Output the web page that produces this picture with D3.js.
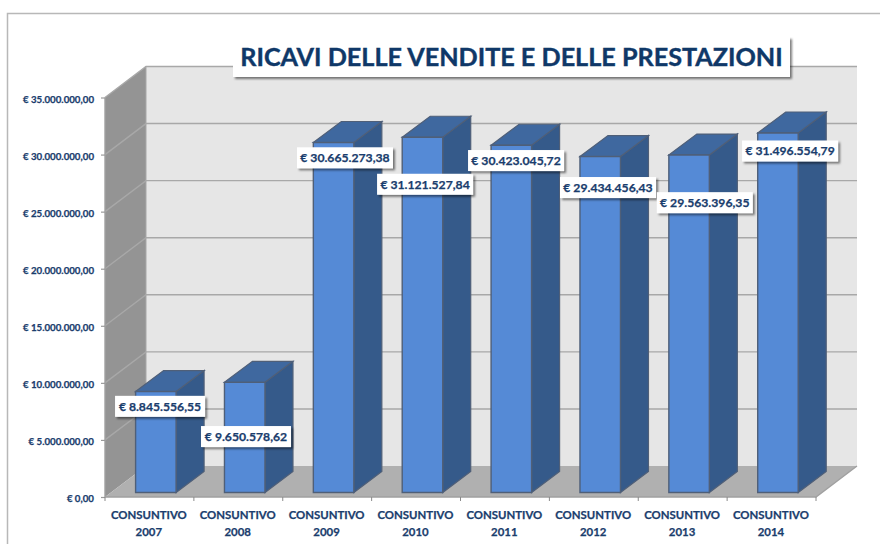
<!DOCTYPE html>
<html><head><meta charset="utf-8">
<script src="https://cdn.jsdelivr.net/npm/d3@7/dist/d3.min.js"></script>
<style>html,body{margin:0;padding:0;background:#fff}svg{display:block}text{font-family:Lato,"Open Sans",sans-serif;font-weight:700;fill:#1a3d6d;stroke:#1a3d6d;stroke-width:.25px}</style>
</head><body><div id="c"></div>
<script>
const categories=["CONSUNTIVO 2007","CONSUNTIVO 2008","CONSUNTIVO 2009","CONSUNTIVO 2010","CONSUNTIVO 2011","CONSUNTIVO 2012","CONSUNTIVO 2013","CONSUNTIVO 2014"];
const values=[8845556.55,9650578.62,30665273.38,31121527.84,30423045.72,29434456.43,29563396.35,31496554.79];
const valueLabels=["€ 8.845.556,55","€ 9.650.578,62","€ 30.665.273,38","€ 31.121.527,84","€ 30.423.045,72","€ 29.434.456,43","€ 29.563.396,35","€ 31.496.554,79"];
const yTicks=[0,5e6,10e6,15e6,20e6,25e6,30e6,35e6];
const yTickLabels=["€ 0,00","€ 5.000.000,00","€ 10.000.000,00","€ 15.000.000,00","€ 20.000.000,00","€ 25.000.000,00","€ 30.000.000,00","€ 35.000.000,00"];
const titleText="RICAVI DELLE VENDITE E DELLE PRESTAZIONI";

const W=880,H=544;
const svg=d3.select("#c").append("svg").attr("width",W).attr("height",H);
const defs=svg.append("defs");
const f=defs.append("filter").attr("id","sh").attr("x","-10%").attr("y","-20%").attr("width","125%").attr("height","160%");
f.append("feDropShadow").attr("dx",2).attr("dy",2).attr("stdDeviation",1.2).attr("flood-color","#000").attr("flood-opacity",.5);

const L=105,R=816,B=497,T=97.5,DX=41,DY=31;
const y=d3.scaleLinear().domain([0,35e6]).range([B,T]);
const x=d3.scaleBand().domain(categories).range([L,R]).paddingInner(0).paddingOuter(0);
const line=d3.line();
const poly=(pts,fill,stroke,sw)=>svg.append("path").attr("d",line(pts)+"Z").attr("fill",fill).attr("stroke",stroke||"none").attr("stroke-width",sw||0);

// frame
svg.append("path").attr("d","M880,13.5H7.5V544").attr("fill","none").attr("stroke","#b8b8b8").attr("stroke-width",1.5);

// walls
poly([[L+DX,T-DY],[R+DX,T-DY],[R+DX,B-DY],[L+DX,B-DY]],"#e6e6e6");
poly([[L,T],[L+DX,T-DY],[L+DX,B-DY],[L,B]],"#949494");
poly([[L,B],[L+DX,B-DY],[R+DX,B-DY],[R,B]],"#b0b0b0");

// gridlines
yTicks.forEach(t=>{
  if(t===0) return;
  const p=y(t);
  svg.append("path").attr("d",line([[L,p],[L+DX,p-DY],[R+DX,p-DY]])).attr("fill","none").attr("stroke","#a8a8a8").attr("stroke-width",1.4);
});
svg.append("path").attr("d",line([[L,T],[L,B],[R,B],[R+DX,B-DY]])).attr("fill","none").attr("stroke","#a0a0a0").attr("stroke-width",1.4);
svg.append("path").attr("d",line([[L+DX,B-DY],[L+DX,T-DY]])).attr("fill","none").attr("stroke","#a8a8a8").attr("stroke-width",1);

// axis ticks
const yAxis=d3.axisLeft(y).tickValues(yTicks).tickSize(4).tickFormat((d,i)=>yTickLabels[i]);
const gy=svg.append("g").attr("transform",`translate(${L},0)`).call(yAxis);
gy.select(".domain").remove();
gy.selectAll("line").attr("stroke","#9a9a9a").attr("stroke-width",1.2);
gy.selectAll("text").attr("font-size",9.7).attr("x",-11).attr("dy","0.48em").style("fill","#1a3d6d");

d3.range(categories.length+1).forEach(i=>{
  const tx=L+i*x.step();
  svg.append("line").attr("x1",tx).attr("x2",tx).attr("y1",B).attr("y2",B+4).attr("stroke","#8a8a8a").attr("stroke-width",1);
});

// bars
const ox=6.4,oy=4.5,bw=40.5,bdx=28,bdy=21;
categories.forEach((c,i)=>{
  const cx=x(c)+x.bandwidth()/2+ox;
  const x0=cx-bw/2,x1=cx+bw/2,yt=y(values[i])-oy,yb=B-oy;
  const st="#4f5f78";
  poly([[x1,yt],[x1+bdx,yt-bdy],[x1+bdx,yb-bdy],[x1,yb]],"#355a8a",st,1.2);
  poly([[x0,yt],[x0+bdx,yt-bdy],[x1+bdx,yt-bdy],[x1,yt]],"#3f689f",st,1.2);
  poly([[x0,yt],[x1,yt],[x1,yb],[x0,yb]],"#558ad6",st,1.4);
});

// category labels
categories.forEach(c=>{
  const cx=x(c)+x.bandwidth()/2-0.6;
  const parts=c.split(" ");
  parts.forEach((p,j)=>{
    svg.append("text").attr("x",cx).attr("y",518.5+j*17).attr("text-anchor","middle").attr("font-size",11.4).text(p);
  });
});

// data label placement, manual nudges from the bar top
const nudgeX=[4.2,1.3,11.4,2.6,4.7,7.8,15.7,12.1];
const nudgeY=[14.8,54.2,15.3,47,15.3,31,47.6,18];
categories.forEach((c,i)=>{
  const cx=x(c)+x.bandwidth()/2+ox+nudgeX[i];
  const cy=y(values[i])-oy+nudgeY[i];
  const w=i<2?90:96,h=21;
  svg.append("rect").attr("x",cx-w/2).attr("y",cy-h/2).attr("width",w).attr("height",h).attr("fill","#fff").attr("filter","url(#sh)");
  svg.append("text").attr("x",cx).attr("y",cy+4.4).attr("text-anchor","middle").attr("font-size",12.2).text(valueLabels[i]);
});

// title
svg.append("rect").attr("x",233).attr("y",37).attr("width",557).attr("height",40).attr("fill","#fff").attr("filter","url(#sh)");
svg.append("text").attr("x",511.5).attr("y",65.8).attr("text-anchor","middle").attr("font-size",25.2).text(titleText).style("fill","#0f3868").style("stroke","#0f3868").style("stroke-width",".4px");
</script></body></html>
